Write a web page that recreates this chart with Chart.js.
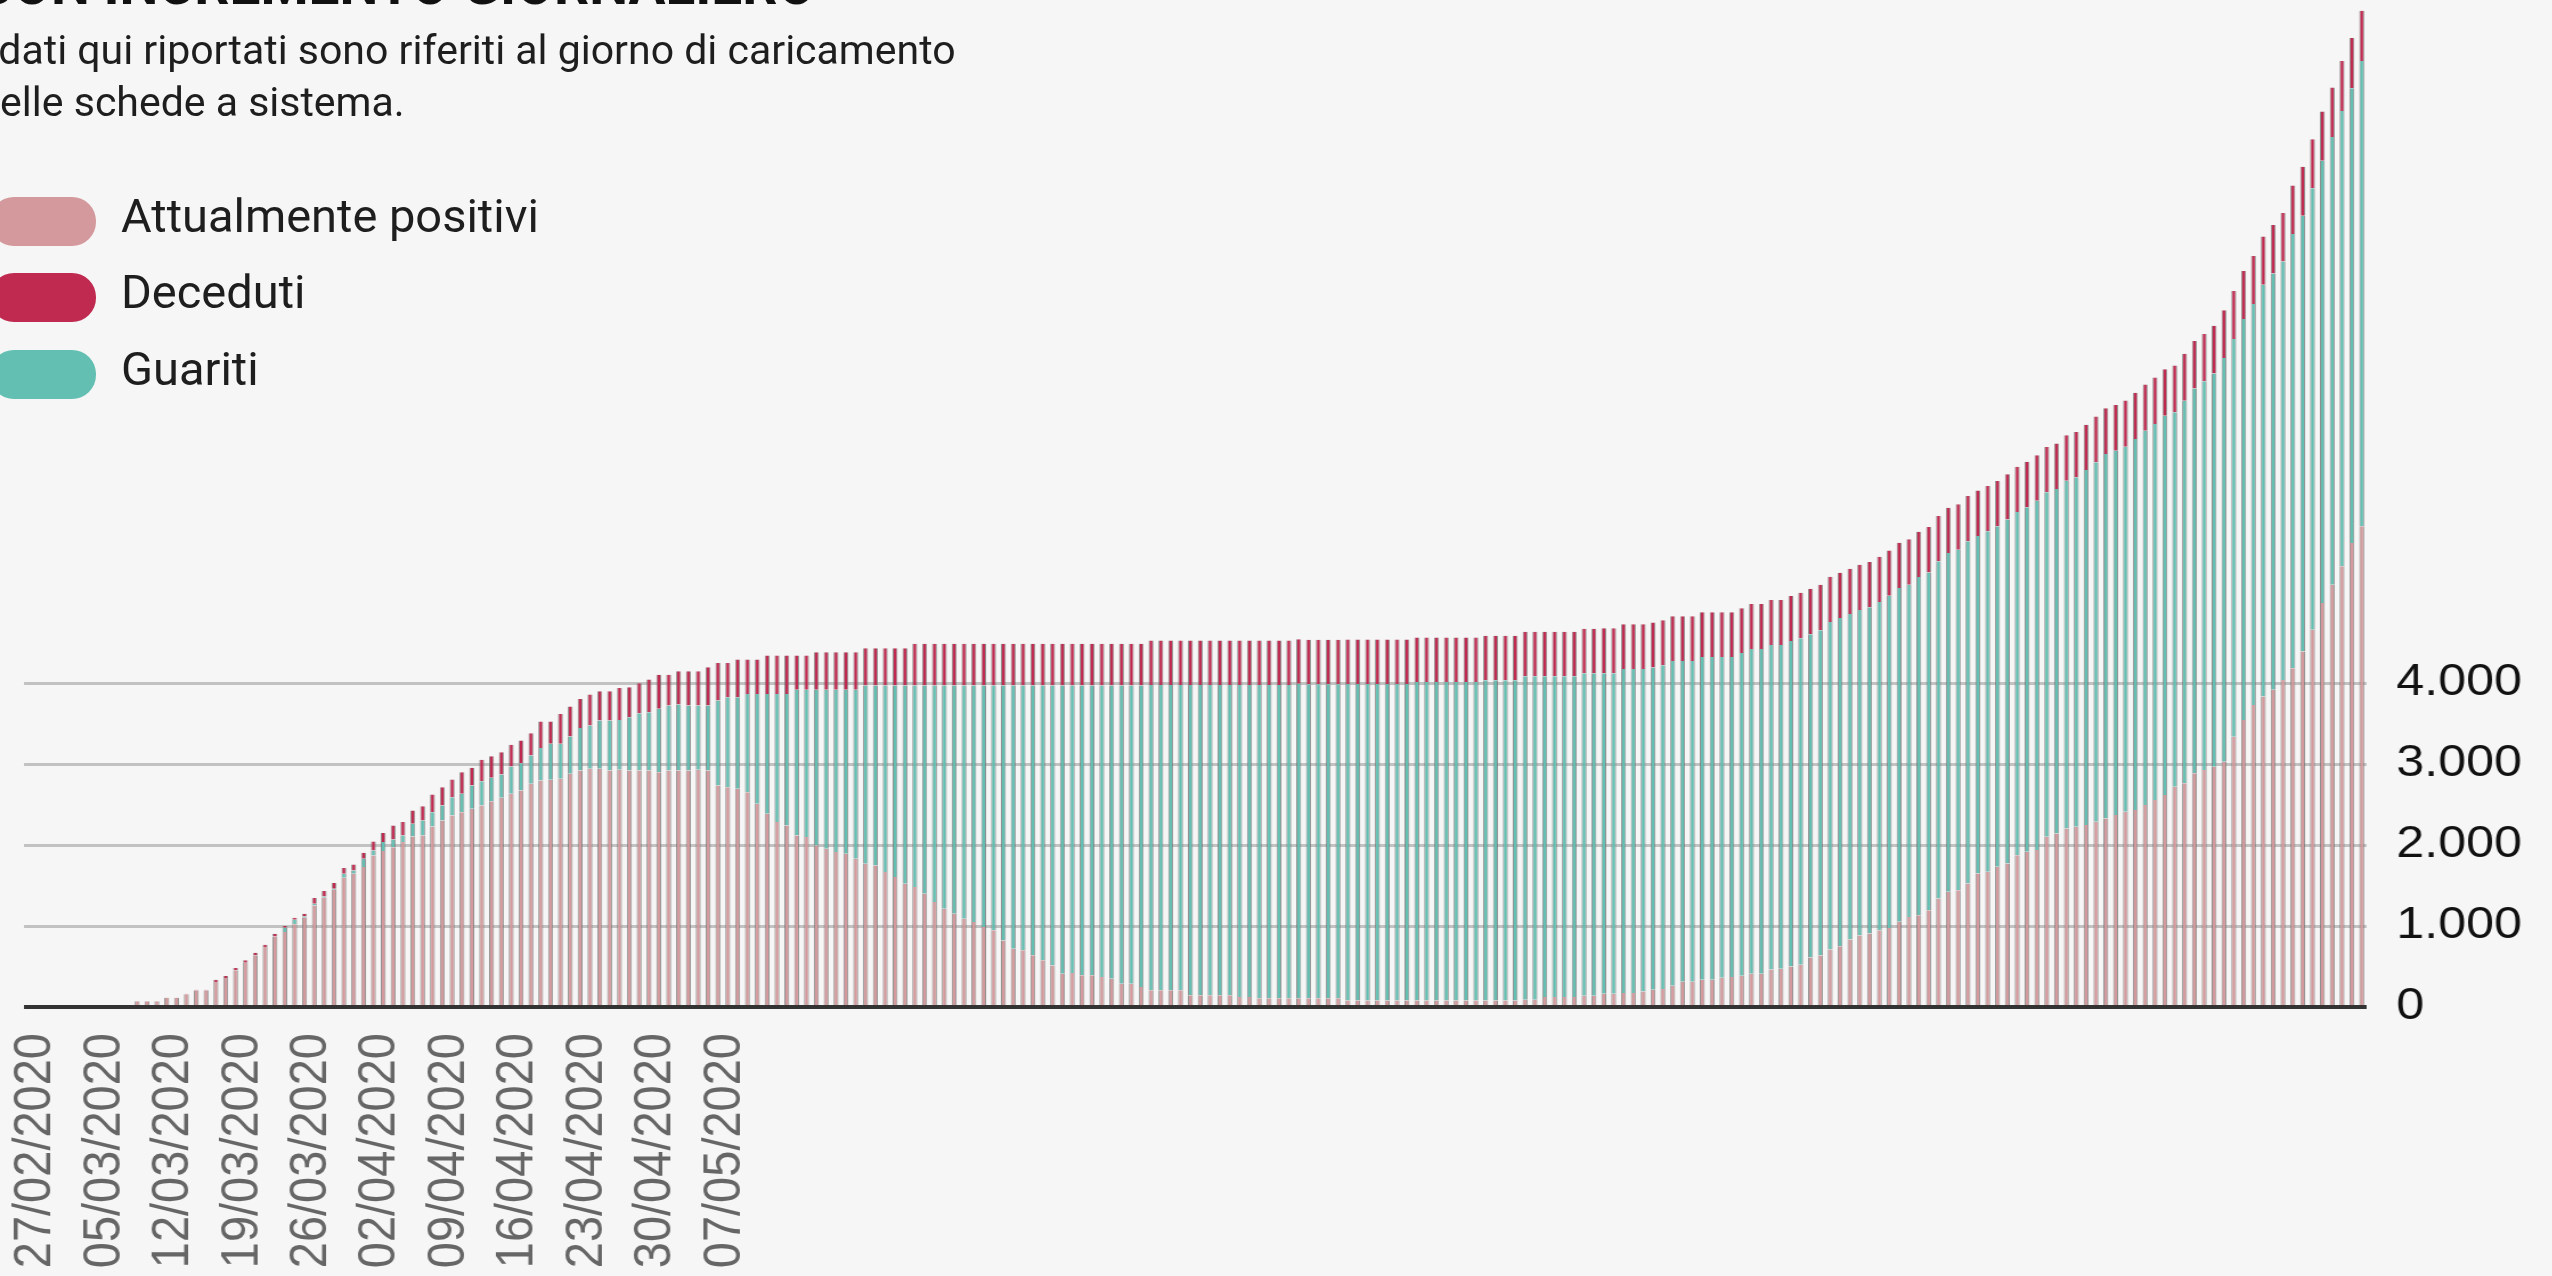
<!DOCTYPE html>
<html>
<head>
<meta charset="utf-8">
<script src="https://cdn.jsdelivr.net/npm/chart.js@4.4.1/dist/chart.umd.min.js"></script>
<style>
html,body{margin:0;padding:0;background:#f6f6f6;width:2552px;height:1276px;overflow:hidden;}
#wrap{position:absolute;left:0;top:0;width:2239px;height:1276px;transform:scaleX(1.14);transform-origin:0 0;}
#c{display:block;}
.txt{position:absolute;font-family:Roboto,'Liberation Sans',Arial,sans-serif;color:#1e1e1e;white-space:nowrap;}
#title{left:-23px;top:-42px;font-size:55px;font-weight:700;line-height:55px;color:#111;}
#sub{left:-23px;top:24px;font-size:41px;line-height:52px;}
.pill{position:absolute;left:-10px;width:106px;height:49px;border-radius:24px;}
.legt{position:absolute;left:121px;font-size:47px;line-height:48px;}
</style>
</head>
<body>
<div id="wrap"><canvas id="c" width="2239" height="1276"></canvas></div>
<div id="title" class="txt">CON INCREMENTO GIORNALIERO</div>
<div id="sub" class="txt">I dati qui riportati sono riferiti al giorno di caricamento<br>delle schede a sistema.</div>
<div id="legend"></div>
<script>
// ---- DATA ----
const START_DATE = Date.UTC(2020, 1, 27); // 27/02/2020, one bar per day

const positivi = [
  0,0,0,0,0,0,0,0,0,0,
  0,70,70,70,110,110,155,205,205,309,
  358,453,547,638,741,872,926,1021,1103,1255,
  1350,1448,1597,1646,1728,1872,1926,1975,2037,2107,
  2119,2230,2304,2366,2407,2448,2490,2543,2584,2634,
  2675,2757,2798,2806,2819,2881,2922,2942,2942,2922,
  2930,2922,2922,2922,2901,2922,2922,2922,2930,2922,
  2737,2716,2695,2654,2510,2387,2284,2243,2119,2099,
  1996,1955,1914,1893,1831,1770,1749,1667,1605,1523,
  1481,1399,1296,1214,1152,1091,1049,988,947,823,
  720,700,638,576,514,412,420,391,391,370,
  350,288,288,247,206,206,206,206,144,144,
  144,144,144,123,123,108,108,108,108,108,
  108,108,108,108,80,80,80,80,80,80,
  80,80,80,80,80,80,80,80,80,80,
  80,80,89,89,124,124,124,124,139,139,
  164,164,174,174,190,213,223,263,313,313,
  337,337,362,372,387,412,412,462,472,501,
  521,610,635,710,749,834,883,908,948,975,
  1052,1113,1134,1196,1340,1423,1443,1526,1650,1670,
  1732,1773,1876,1918,1938,2103,2144,2206,2227,2248,
  2289,2330,2371,2413,2433,2495,2557,2619,2722,2763,
  2887,2928,2969,3031,3340,3547,3732,3835,3918,4041,
  4186,4392,4660,4990,5217,5444,5732,5939
];

const guariti = [
  0,0,0,0,0,0,0,0,0,0,
  0,0,0,0,0,0,0,0,0,0,
  0,0,0,0,0,0,53,57,16,20,
  16,13,49,41,103,62,111,95,82,156,
  185,177,186,226,227,288,300,288,288,337,
  337,350,403,445,432,460,526,535,597,617,
  617,658,707,720,782,802,814,802,794,802,
  1049,1111,1132,1214,1358,1481,1584,1625,1799,1819,
  1922,1963,2004,2025,2087,2201,2222,2304,2366,2448,
  2490,2572,2675,2757,2819,2880,2922,2983,3024,3148,
  3251,3271,3333,3395,3457,3559,3551,3580,3580,3601,
  3621,3683,3683,3724,3772,3772,3772,3772,3834,3834,
  3834,3834,3834,3855,3855,3870,3870,3870,3870,3885,
  3880,3880,3880,3880,3910,3910,3910,3910,3910,3910,
  3910,3935,3935,3935,3935,3935,3935,3935,3955,3955,
  3955,3955,3996,3996,3961,3961,3961,3961,3985,3985,
  3960,3960,4000,4000,3984,3981,4000,4010,3960,3960,
  3986,3986,3961,3951,3985,4010,4010,4010,4000,4020,
  4035,3996,4020,4045,4055,4020,4020,4030,4055,4105,
  4124,4104,4178,4173,4166,4186,4207,4227,4170,4207,
  4207,4248,4239,4257,4317,4255,4256,4296,4317,4386,
  4440,4502,4502,4509,4584,4625,4645,4686,4624,4727,
  4755,4801,4858,4986,4911,4951,4951,5087,5144,5169,
  5362,5382,5455,5463,5532,5626,5618,5748
];

const deceduti = [
  0,0,0,0,0,0,0,0,0,0,
  0,0,0,0,5,5,10,9,9,28,
  25,28,29,33,29,33,21,25,33,71,
  66,70,70,74,74,111,111,173,165,165,
  177,218,226,219,267,219,263,268,276,268,
  280,276,326,276,370,371,358,383,362,362,
  395,370,371,403,420,379,412,424,424,474,
  465,424,465,424,424,474,474,474,424,424,
  465,465,465,465,465,461,461,461,461,461,
  515,515,515,515,515,515,515,515,515,515,
  515,515,515,515,515,515,515,515,515,515,
  515,515,515,515,550,550,550,550,550,550,
  550,550,550,550,550,550,550,550,550,550,
  550,550,550,550,550,550,550,550,550,550,
  550,550,550,550,550,550,550,550,550,550,
  550,550,550,550,550,550,550,550,550,550,
  555,555,555,555,555,555,555,555,555,555,
  555,555,555,555,555,555,555,555,555,555,
  560,560,560,560,560,560,560,560,560,560,
  560,560,560,560,560,560,560,560,560,560,
  560,560,560,560,560,560,560,560,560,560,
  565,565,565,570,570,570,575,575,580,580,
  585,585,590,590,595,595,595,595,600,600,
  600,605,605,610,610,615,620,620
];

const xTickLabels = ['27/02/2020','05/03/2020','12/03/2020','19/03/2020','26/03/2020','02/04/2020',
  '09/04/2020','16/04/2020','23/04/2020','30/04/2020','07/05/2020'];
const yTickValues = [0, 1000, 2000, 3000, 4000];

const seriesNames = ['Attualmente positivi', 'Guariti', 'Deceduti'];
const seriesColors = { 'Attualmente positivi': '#d4999c', 'Guariti': '#62bfb2', 'Deceduti': '#c02a50' };
const legendOrder = ['Attualmente positivi', 'Deceduti', 'Guariti'];

// ---- categories (one per day) ----
function pad(n) { return (n < 10 ? '0' : '') + n; }
const categories = [];
for (let i = 0; i < positivi.length; i++) {
  const d = new Date(START_DATE + i * 86400000);
  categories.push(pad(d.getUTCDate()) + '/' + pad(d.getUTCMonth() + 1) + '/' + d.getUTCFullYear());
}
function fmt(v) { return String(v).replace(/\B(?=(\d{3})+(?!\d))/g, '.'); }

// ---- legend (HTML) ----
const legendEl = document.getElementById('legend');
const legendTops = [197, 273, 350];
legendOrder.forEach((name, i) => {
  const p = document.createElement('div');
  p.className = 'pill';
  p.style.top = legendTops[i] + 'px';
  p.style.background = seriesColors[name];
  legendEl.appendChild(p);
  const t = document.createElement('div');
  t.className = 'txt legt';
  t.style.top = (legendTops[i] - 5) + 'px';
  t.textContent = name;
  legendEl.appendChild(t);
});

// ---- chart ----
Chart.defaults.font.family = "'Liberation Sans', Arial, sans-serif";
const seriesData = { 'Attualmente positivi': positivi, 'Guariti': guariti, 'Deceduti': deceduti };
const datasets = seriesNames.map(name => ({
  label: name,
  data: seriesData[name],
  backgroundColor: seriesColors[name],
  borderColor: 'rgba(110,110,110,0.75)',
  borderWidth: { left: 1, right: 1, top: 0, bottom: 0 },
  borderSkipped: false,
  barPercentage: 0.5,
  categoryPercentage: 1.0
}));

new Chart(document.getElementById('c'), {
  type: 'bar',
  data: { labels: categories, datasets: datasets },
  options: {
    responsive: false,
    animation: false,
    devicePixelRatio: 1,
    layout: { padding: { left: 21, right: 0, top: 0, bottom: 0 } },
    plugins: { legend: { display: false }, tooltip: { enabled: false }, title: { display: false } },
    scales: {
      x: {
        stacked: true,
        offset: true,
        grid: { display: false, drawTicks: false },
        border: { display: false },
        ticks: {
          autoSkip: false, minRotation: 90, maxRotation: 90, padding: 26, labelOffset: 6,
          color: '#666', font: { size: 47 },
          callback: function (value, index) {
            const l = categories[index];
            return xTickLabels.includes(l) ? l : '';
          }
        },
        afterFit: s => { s.height = 269; s.paddingLeft = 0; s.paddingRight = 0; }
      },
      y: {
        stacked: true,
        position: 'right',
        min: 0,
        max: 12440,
        z: 1,
        grid: {
          drawTicks: false,
          color: ctx => (ctx.tick && ctx.tick.value === 0) ? '#333333' : '#c2c2c2',
          lineWidth: ctx => (ctx.tick && ctx.tick.value === 0) ? 4 : 3
        },
        border: { display: false },
        ticks: { padding: 26, color: '#111', font: { size: 44 }, callback: v => fmt(v) },
        afterBuildTicks: s => { s.ticks = yTickValues.map(v => ({ value: v })); },
        afterFit: s => { s.width = 163; s.paddingTop = 0; s.paddingBottom = 0; }
      }
    }
  }
});
</script>
</body>
</html>
